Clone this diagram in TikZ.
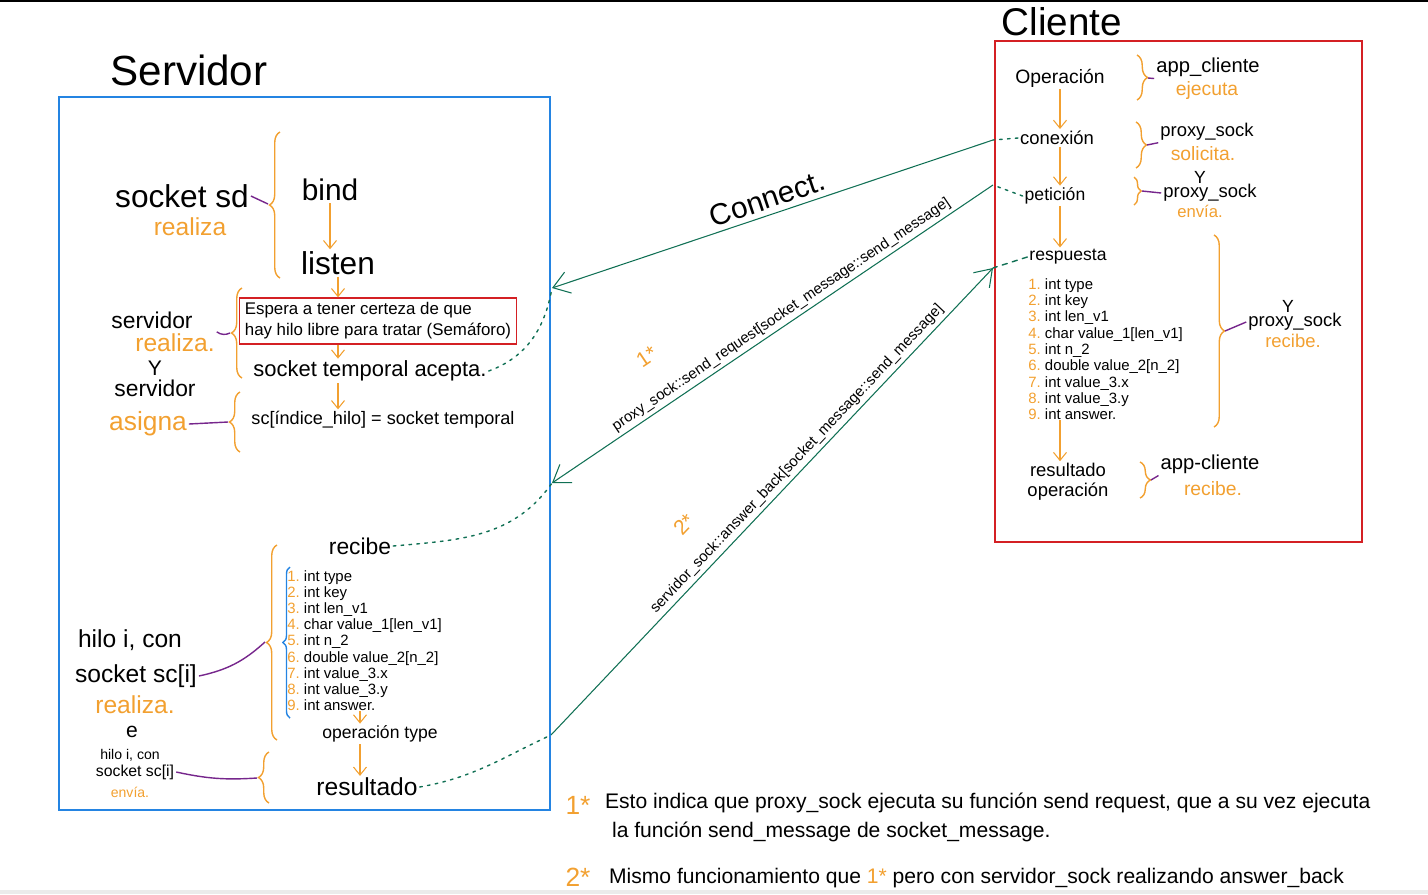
\documentclass[tikz,border=0pt]{standalone}
\usepackage{fontspec}
\setmainfont{Liberation Sans}
\usetikzlibrary{arrows.meta,decorations.pathreplacing}
\definecolor{marker}{RGB}{242,160,48}
\definecolor{ink}{RGB}{118,38,140}
\definecolor{wire}{RGB}{16,112,84}
\definecolor{srvblue}{RGB}{36,132,226}
\definecolor{clired}{RGB}{212,32,36}
\newcommand\sz[2]{\fontsize{#1}{#2}\selectfont}
\newcommand\fld[2]{\textcolor{marker}{#1.}\ #2}

\begin{document}
\begin{tikzpicture}[x=0.02cm, y=-0.02cm,
    txt/.style={inner sep=1pt, text=black},
    note/.style={inner sep=1pt, text=marker},
    flow/.style={marker, semithick, -{Straight Barb[length=1.6mm,width=2.6mm]}},
    brc/.style={marker, thick, decorate, decoration={brace, amplitude=6pt}},
    tie/.style={ink, thick},
    msg/.style={wire, semithick, -{Straight Barb[length=3.2mm,width=4.4mm]}},
    hint/.style={wire, thick, dash pattern=on 1.5pt off 3pt, line cap=round}
]
\useasboundingbox (0,0) rectangle (1428,894);
\draw[line width=1.6pt] (0,1) -- (1428,1);
\fill[black!8] (0,890) rectangle (1428,894);

\node[txt, font=\sz{24}{28}] (srvtitle) at (189,70) {Servidor};
\node[draw=srvblue, thick, inner sep=0, minimum width=9.82cm, minimum height=14.26cm] (srvbox) at (304.5,453.5) {};

\node[txt, font=\sz{18}{20}] (sock) at (182,196) {socket sd};
\node[note, font=\sz{14}{16}] (sockdo) at (190,227) {realiza};
\node[txt, font=\sz{17}{20}] (bind) at (330,190) {bind};
\node[txt, font=\sz{18}{20}] (listen) at (338,263) {listen};
\node[txt, draw=clired, thick, align=left, font=\sz{9.6}{12}, minimum width=5.54cm, minimum height=0.92cm] (wait) at (378,321) {Espera a tener certeza de que\\hay hilo libre para tratar (Semáforo)};
\node[txt, font=\sz{12.5}{15}] (accept) at (370,371) {socket temporal acepta.};
\node[txt, font=\sz{10.3}{13}] (assign) at (383,420) {sc[índice\_hilo] = socket temporal};
\node[txt, font=\sz{13}{15}] (srv1) at (152,320) {servidor};
\node[note, font=\sz{14}{16}] (srv1do) at (175,343) {realiza.};
\node[txt, font=\sz{12}{14}] (and1) at (155,368) {Y};
\node[txt, font=\sz{13}{15}] (srv2) at (155,388) {servidor};
\node[note, font=\sz{15}{17}] (srv2do) at (148,424) {asigna};

\coordinate (b1) at (268,204);
\coordinate (b2) at (230,333);
\coordinate (b3) at (228,422);
\draw[brc] (280,278) -- (280,132);
\draw[brc] (242,378) -- (242,288);
\draw[brc] (240,452) -- (240,392);
\draw[tie] (sock.east) -- (b1);
\draw[tie] (srv1do.north east) to[bend right=30] (b2);
\draw[tie] (srv2do.east) -- (b3);

\draw[flow] (bind.south) -- (bind.south |- listen.north);
\draw[flow] (listen.south) -- (listen.south |- wait.north);
\draw[flow] (wait.south -| listen) -- (accept.north -| listen);
\draw[flow] (accept.south -| listen) -- (assign.north -| listen);

\node[txt, font=\sz{13}{15}] (recv) at (360,546) {recibe};
\node[txt, align=left, font=\sz{8.5}{9.2}, anchor=north west, inner sep=0] (fields) at (287,570) {\fld{1}{int type}\\\fld{2}{int key}\\\fld{3}{int len\_v1}\\\fld{4}{char value\_1[len\_v1]}\\\fld{5}{int n\_2}\\\fld{6}{double value\_2[n\_2]}\\\fld{7}{int value\_3.x}\\\fld{8}{int value\_3.y}\\\fld{9}{int answer.}};
\node[txt, font=\sz{10}{12}] (optype) at (380,734) {operación type};
\node[txt, font=\sz{14}{16}] (result) at (367,787) {resultado};
\draw[flow] (fields.south -| recv) -- (optype.north -| recv);
\draw[flow] (optype.south -| recv) -- (result.north -| recv);

\node[txt, font=\sz{14}{16}] (thr1) at (130,640) {hilo i, con};
\node[txt, font=\sz{14}{16}] (thrsock1) at (136,676) {socket sc[i]};
\node[note, font=\sz{14}{16}] (thr1do) at (135,705) {realiza.};
\node[txt, font=\sz{12}{14}] (and2) at (132,732) {e};
\node[txt, font=\sz{8}{9}] (thr2) at (130,755) {hilo i, con};
\node[txt, font=\sz{9}{10}] (thrsock2) at (135,772) {socket sc[i]};
\node[note, font=\sz{8}{9}] (thr2do) at (130,792) {envía.};

\coordinate (b4) at (265,642);
\coordinate (b6) at (257,778);
\draw[brc] (277,740) -- (277,545);
\draw[brc, srvblue, decoration={brace, amplitude=4pt}] (290,718) -- (290,567);
\draw[brc] (269,803) -- (269,752);
\draw[tie] (thrsock1.east) to[bend right=15] (b4);
\draw[tie] (thrsock2.east) to[bend right=8] (b6);

\node[txt, font=\sz{22}{26}] (clititle) at (1062,22) {Cliente};
\node[draw=clired, thick, inner sep=0, minimum width=7.34cm, minimum height=10.02cm] (clibox) at (1178.5,291.5) {};
\node[txt, font=\sz{11}{13}] (op) at (1060,78) {Operación};
\node[txt, font=\sz{10.5}{12}] (conn) at (1057,138) {conexión};
\node[txt, font=\sz{10}{12}] (req) at (1055,196) {petición};
\node[txt, font=\sz{10}{12}] (resp) at (1068,257) {respuesta};
\node[txt, align=left, font=\sz{8.5}{9.3}, anchor=north west, inner sep=0] (cfields) at (1028,278) {\fld{1}{int type}\\\fld{2}{int key}\\\fld{3}{int len\_v1}\\\fld{4}{char value\_1[len\_v1]}\\\fld{5}{int n\_2}\\\fld{6}{double value\_2[n\_2]}\\\fld{7}{int value\_3.x}\\\fld{8}{int value\_3.y}\\\fld{9}{int answer.}};
\node[txt, align=center, font=\sz{10.5}{11.5}] (res) at (1068,482) {resultado\\operación};
\draw[flow] (op.south) -- (conn.north -| op);
\draw[flow] (conn.south -| op) -- (req.north -| op);
\draw[flow] (req.south -| op) -- (resp.north -| op);
\draw[flow] (cfields.south -| op) -- (res.north -| op);

\node[txt, font=\sz{11.5}{13}] (app1) at (1208,67) {app\_cliente};
\node[note, font=\sz{11}{13}] (app1do) at (1207,90) {ejecuta};
\node[txt, font=\sz{10.5}{12}] (pxy1) at (1207,132) {proxy\_sock};
\node[note, font=\sz{11}{13}] (pxy1do) at (1203,154) {solicita.};
\node[txt, font=\sz{10}{12}] (and3) at (1200,177) {Y};
\node[txt, font=\sz{10.5}{12}] (pxy2) at (1210,193) {proxy\_sock};
\node[note, font=\sz{9.5}{11}] (pxy2do) at (1200,211) {envía.};
\node[txt, font=\sz{10}{12}] (and4) at (1288,306) {Y};
\node[txt, font=\sz{10.5}{12}] (pxy3) at (1295,322) {proxy\_sock};
\node[note, font=\sz{10.5}{12}] (pxy3do) at (1293,341) {recibe.};
\node[txt, font=\sz{11.5}{13}] (app2) at (1210,464) {app-cliente};
\node[note, font=\sz{11}{13}] (app2do) at (1213,489) {recibe.};

\coordinate (b7) at (1148,78);
\coordinate (b8) at (1147,145);
\coordinate (b9) at (1142,191);
\coordinate (b10) at (1225,331);
\coordinate (b11) at (1151,480);
\draw[brc] (1137,55) -- (1137,100);
\draw[brc] (1136,122) -- (1136,168);
\draw[brc, decoration={brace, amplitude=4pt}] (1134,177) -- (1134,205);
\draw[brc] (1214,235) -- (1214,427);
\draw[brc] (1140,462) -- (1140,498);
\draw[tie] (b7) -- (app1.south west);
\draw[tie] (b8) -- (pxy1.south west);
\draw[tie] (b9) -- (pxy2.west);
\draw[tie] (b10) -- (pxy3.west);
\draw[tie] (b11) -- (app2.south west);

\coordinate (srvA) at (552,288);
\coordinate (srvB) at (552,483);
\coordinate (srvC) at (551,735);
\coordinate (cliA) at (993,140);
\coordinate (cliB) at (993,185);
\coordinate (cliC) at (993,268);
\draw[msg] (cliA) -- (srvA) node[midway, above=2pt, sloped, txt, font=\sz{17}{20}] (lblconn) {Connect.};
\draw[msg] (cliB) -- (srvB) node[pos=0.466, above=1pt, sloped, txt, font=\sz{8.5}{10}] (lblreq) {proxy\_sock::send\_request[socket\_message::send\_message]} node[pos=0.72, above=24pt, sloped, note, font=\sz{12}{14}] (star1) {1*};
\draw[msg] (srvC) -- (cliC) node[pos=0.575, above=1pt, sloped, txt, font=\sz{8.5}{10}] (lblans) {servidor\_sock::answer\_back[socket\_message::send\_message]} node[pos=0.38, above=22pt, sloped, note, font=\sz{12}{14}] (star2) {2*};
\draw[hint] (accept.east) to[out=20, in=-100] (srvA);
\draw[hint] (recv.east) to[out=5, in=-125] (srvB);
\draw[hint] (result.east) to[out=10, in=-155] (srvC);
\draw[hint] (conn.west) -- (cliA);
\draw[hint] (req.west) -- (cliB);
\draw[hint, dash pattern=on 3pt off 3pt] (resp.west) -- (cliC);

\node[note, font=\sz{15}{17}] (fn1mark) at (578,805) {1*};
\node[txt, anchor=west, font=\sz{12}{14}] (fn1) at (603,803) {Esto indica que proxy\_sock ejecuta su función send request, que a su vez ejecuta};
\node[txt, anchor=west, font=\sz{12}{14}] (fn1b) at (610,832) {la función send\_message de socket\_message.};
\node[note, font=\sz{15}{17}] (fn2mark) at (578,877) {2*};
\node[txt, anchor=west, font=\sz{12}{14}] (fn2) at (607,878) {Mismo funcionamiento que \textcolor{marker}{1*} pero con servidor\_sock realizando answer\_back};

\end{tikzpicture}
\end{document}
